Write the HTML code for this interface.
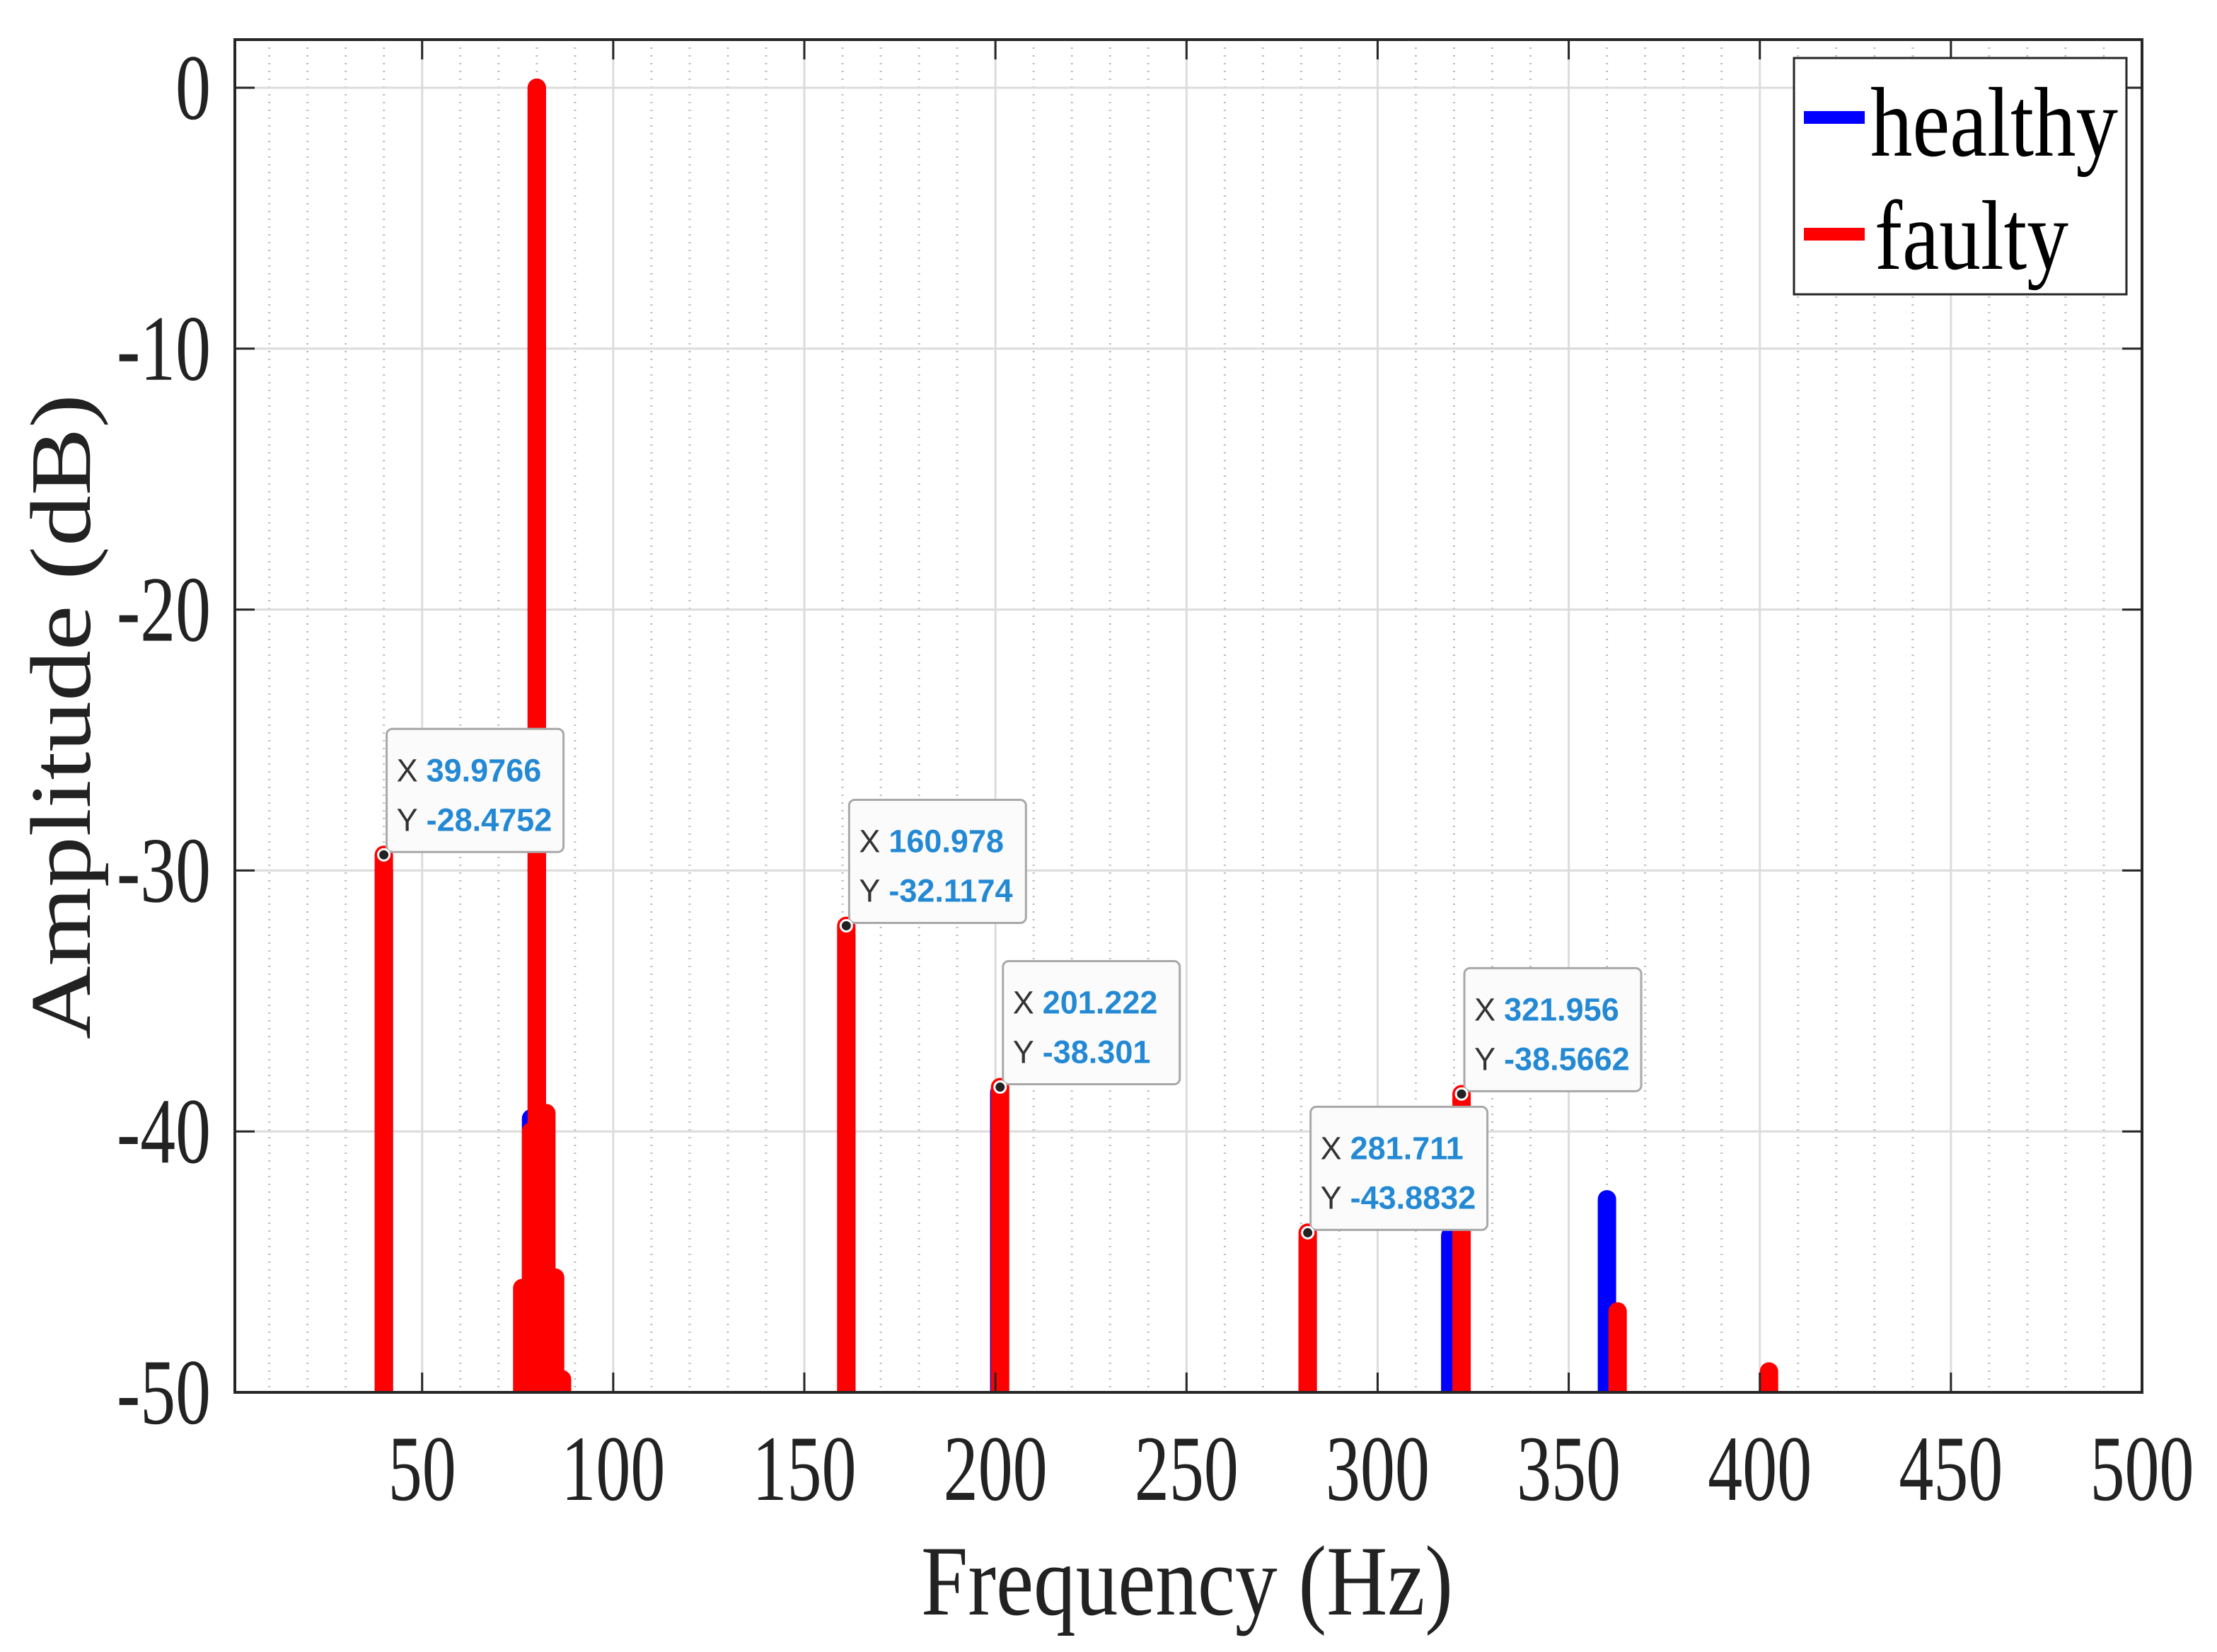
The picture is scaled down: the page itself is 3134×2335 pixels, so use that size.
<!DOCTYPE html>
<html><head><meta charset="utf-8"><style>
html,body{margin:0;padding:0;background:#fff;}
svg{display:block;}
</style></head><body>
<svg id="chart" width="3134" height="2335" viewBox="0 0 3134 2335" xmlns="http://www.w3.org/2000/svg">
<defs><clipPath id="plotclip"><rect x="332" y="56" width="2696" height="1912"/></clipPath></defs>
<rect x="0" y="0" width="3134" height="2335" fill="#fff"/>
<g id="grid"></g>
<g id="series" clip-path="url(#plotclip)"></g>
<g id="axes"></g>
<g id="tips"></g>
<g id="legend">
  <rect x="2536" y="82" width="470" height="334" fill="#fff" stroke="#262626" stroke-width="3"/>
  <rect x="2550" y="157" width="86" height="18" fill="#0000ff"/>
  <text x="2644" y="220" font-family="Liberation Serif, serif" font-size="140" textLength="350" lengthAdjust="spacingAndGlyphs" fill="#000">healthy</text>
  <rect x="2550" y="322" width="86" height="18" fill="#ff0000"/>
  <text x="2650" y="380" font-family="Liberation Serif, serif" font-size="140" textLength="274" lengthAdjust="spacingAndGlyphs" fill="#000">faulty</text>
</g>
<text x="1302" y="2282" font-family="Liberation Serif, serif" font-size="141" textLength="752" lengthAdjust="spacingAndGlyphs" fill="#222">Frequency (Hz)</text>
<text transform="translate(127,1469) rotate(-90)" x="0" y="0" font-family="Liberation Serif, serif" font-size="122" textLength="912" lengthAdjust="spacingAndGlyphs" fill="#222">Amplitude (dB)</text>
</svg>
<script>
const xTicks = [50,100,150,200,250,300,350,400,450,500];
const xTickLabels = ["50","100","150","200","250","300","350","400","450","500"];
const yTicks = [0,-10,-20,-30,-40,-50];
const yTickLabels = ["0","-10","-20","-30","-40","-50"];
const healthyFreq = [40, 78.5, 80, 161, 201, 281.7, 319, 360];
const healthyAmp  = [-30, -39.5, 0, -32.5, -38.5, -44.2, -44, -42.6];
const faultyFreq = [39.98, 76.2, 77.5, 78.5, 80, 81.5, 82.5, 83.8, 84.8, 86.6, 160.98, 201.22, 281.71, 321.96, 362.8, 402.4];
const faultyAmp  = [-29.4, -46, -46, -40, 0, -39.3, -39.3, -45.6, -45.6, -49.5, -32.12, -38.30, -43.88, -38.57, -46.9, -49.2];
const tipX = [39.9766, 160.978, 201.222, 281.711, 321.956];
const tipY = [-29.4, -32.1174, -38.301, -43.8832, -38.5662];
const tipXLabels = ["39.9766","160.978","201.222","281.711","321.956"];
const tipYLabels = ["-28.4752","-32.1174","-38.301","-43.8832","-38.5662"];

const L=332,R=3028,T=56,B=1968;
const X0=1,X1=500;
function xs(v){return L+(v-X0)*(R-L)/(X1-X0);}
function ys(v){return 124+(0-v)*(B-124)/50;}
const NS="http://www.w3.org/2000/svg";
function mk(tag,attrs,parent){const e=document.createElementNS(NS,tag);for(const k in attrs)e.setAttribute(k,attrs[k]);parent.appendChild(e);return e;}
const grid=document.getElementById('grid'),axes=document.getElementById('axes'),series=document.getElementById('series'),tips=document.getElementById('tips');

for(let f=10;f<500;f+=10){
  if(f%50===0)continue;
  const l=mk('line',{x1:xs(f),x2:xs(f),y1:T,y2:B,stroke:'#bdbdbd','stroke-width':3,'stroke-dasharray':'2 9'},grid);
  
  
}
xTicks.forEach(v=>{
  const l=mk('line',{x1:xs(v),x2:xs(v),y1:T,y2:B,stroke:'#dcdcdc','stroke-width':3},grid);
  
  
});
yTicks.forEach(v=>{
  const l=mk('line',{x1:L,x2:R,y1:ys(v),y2:ys(v),stroke:'#dcdcdc','stroke-width':3},grid);
  
  
});

function drawSeries(fr,am,color,name){
  fr.forEach((f,i)=>{
    const l=mk('line',{x1:xs(f),x2:xs(f),y1:ys(-55),y2:ys(am[i]),stroke:color,'stroke-width':26,'stroke-linecap':'round'},series);
    
    
  });
}
drawSeries(healthyFreq,healthyAmp,'#0000ff','healthy');
drawSeries(faultyFreq,faultyAmp,'#ff0000','faulty');

const box=mk('rect',{x:L,y:T,width:R-L,height:B-T,fill:'none',stroke:'#262626','stroke-width':4},axes);


xTicks.forEach((v,i)=>{
  const x=xs(v);
  const t1=mk('line',{x1:x,x2:x,y1:B,y2:B-28,stroke:'#262626','stroke-width':3},axes);
  
  
  const t2=mk('line',{x1:x,x2:x,y1:T,y2:T+28,stroke:'#262626','stroke-width':3},axes);
  
  
  const s=xTickLabels[i];
  const w=s.length===2?96:147;
  const t=mk('text',{x:x,y:2120,'text-anchor':'middle','font-family':'Liberation Serif, serif','font-size':132,fill:'#222',textLength:w,lengthAdjust:'spacingAndGlyphs'},axes);
  t.textContent=s;
  
  
});
yTicks.forEach((v,i)=>{
  const y=ys(v);
  const t1=mk('line',{x1:L,x2:L+28,y1:y,y2:y,stroke:'#262626','stroke-width':3},axes);
  
  
  const t2=mk('line',{x1:R,x2:R-28,y1:y,y2:y,stroke:'#262626','stroke-width':3},axes);
  
  
  const s=yTickLabels[i];
  const w=s.length===1?50:133;
  const t=mk('text',{x:298,y:y+44,'text-anchor':'end','font-family':'Liberation Serif, serif','font-size':132,fill:'#222',textLength:w,lengthAdjust:'spacingAndGlyphs'},axes);
  t.textContent=s;
  
  
});

tipX.forEach((xv,i)=>{
  const px=xs(xv),py=ys(tipY[i]);
  const g=mk('g',{},tips);
  
  
  const bx=px+4,by=py-178;
  const bw=tipXLabels[i].length>=7?250:238;
  const r=mk('rect',{x:bx,y:by,width:bw,height:174,rx:8,fill:'#fbfbfb',stroke:'#a8a8a8','stroke-width':3},g);
  
  
  const tx=mk('text',{x:bx+14,y:by+74,'font-family':'Liberation Sans, sans-serif','font-size':45,fill:'#333'},g);
  tx.textContent='X ';
  
  
  const tv=mk('text',{x:bx+56,y:by+74,'font-family':'Liberation Sans, sans-serif','font-size':45,'font-weight':'bold',fill:'#2389d4'},g);
  tv.textContent=tipXLabels[i];
  
  
  const ty=mk('text',{x:bx+14,y:by+144,'font-family':'Liberation Sans, sans-serif','font-size':45,fill:'#333'},g);
  ty.textContent='Y ';
  
  
  const tw=mk('text',{x:bx+56,y:by+144,'font-family':'Liberation Sans, sans-serif','font-size':45,'font-weight':'bold',fill:'#2389d4'},g);
  tw.textContent=tipYLabels[i];
  
  
  const c=mk('circle',{cx:px,cy:py,r:8,fill:'#222',stroke:'#fff','stroke-width':3},g);
  
  
});
</script>
</body></html>
